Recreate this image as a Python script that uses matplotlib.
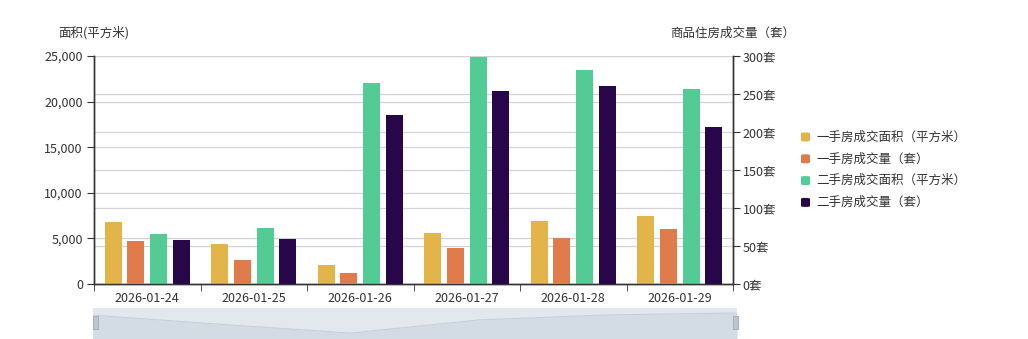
import numpy as np
import matplotlib
matplotlib.use('Agg')
import matplotlib.pyplot as plt
from matplotlib.patches import FancyBboxPatch, Rectangle

plt.rcParams['font.family'] = ['Noto Sans CJK SC', 'DejaVu Sans']

# data
dates = ['2026-01-24', '2026-01-25', '2026-01-26', '2026-01-27', '2026-01-28', '2026-01-29']
new_area = [6850, 4370, 2040, 5580, 6920, 7430]      # 一手房成交面积 (left axis)
new_units = [57, 32, 15, 47, 60, 72]                 # 一手房成交量 (right axis)
old_area = [5500, 6120, 22000, 24850, 23500, 21350]  # 二手房成交面积 (left axis)
old_units = [58, 59, 222, 254, 261, 206]             # 二手房成交量 (right axis)
series_names = ['一手房成交面积（平方米）', '一手房成交量（套）',
                '二手房成交面积（平方米）', '二手房成交量（套）']
colors = ['#e3b449', '#e07b4c', '#52cc94', '#270649']

W, H = 1028, 339
fig = plt.figure(figsize=(W / 100, H / 100), dpi=100)
x0, x1, yb, yt = 94, 733, 284, 56
ax = fig.add_axes([x0 / W, (H - yb) / H, (x1 - x0) / W, (yb - yt) / H])
ax2 = ax.twinx()

txt = '#333333'
grid_c = '#d4d4d4'
x = np.arange(len(dates))
pitch = 0.213
bw = 0.16
LMAX, RMAX = 25000, 300

ax.set_ylim(0, LMAX)
ax2.set_ylim(0, RMAX)
ax.set_xlim(-0.5, len(dates) - 0.5)

# split lines of both y axes, all drawn behind the bars
for v in range(5000, LMAX + 1, 5000):
    ax.axhline(v, color=grid_c, lw=0.9, zorder=0)
for v in range(50, RMAX + 1, 50):
    ax.axhline(v * LMAX / RMAX, color=grid_c, lw=0.9, zorder=0)

ax.bar(x - 1.5 * pitch, new_area, bw, color=colors[0], zorder=3)
ax2.bar(x - 0.5 * pitch, new_units, bw, color=colors[1], zorder=3)
ax.bar(x + 0.5 * pitch, old_area, bw, color=colors[2], zorder=3)
ax2.bar(x + 1.5 * pitch, old_units, bw, color=colors[3], zorder=3)

ax.set_yticks(range(0, LMAX + 1, 5000))
ax.set_yticklabels([f'{v:,}' for v in range(0, LMAX + 1, 5000)])
ax2.set_yticks(range(0, RMAX + 1, 50))
ax2.set_yticklabels([f'{v}套' for v in range(0, RMAX + 1, 50)])

ax.set_xticks(x)
ax.set_xticklabels(dates)
ax.set_xticks(np.arange(-0.5, len(dates)), minor=True)
ax.tick_params(axis='x', which='major', length=0, pad=6, labelsize=9, labelcolor=txt)
ax.tick_params(axis='x', which='minor', length=5, color=txt)
ax.tick_params(axis='y', length=5, color=txt, labelsize=9, labelcolor=txt, pad=3)
ax2.tick_params(axis='y', length=5, color=txt, labelsize=9, labelcolor=txt, pad=2)

for a in (ax, ax2):
    a.spines['top'].set_visible(False)
    for s in ('left', 'right', 'bottom'):
        a.spines[s].set_color(txt)
        a.spines[s].set_linewidth(1)
ax2.patch.set_visible(False)

fig.text(x0 / W, 1 - 33 / H, '面积(平方米)', ha='center', va='center', fontsize=9, color=txt)
fig.text(x1 / W, 1 - 33 / H, '商品住房成交量（套）', ha='center', va='center', fontsize=9, color=txt)

# legend
for i, name in enumerate(series_names):
    cy = 137 + i * 21.8
    fig.patches.append(FancyBboxPatch((801 / W, 1 - (cy + 4.5) / H), 9 / W, 9 / H,
                                      boxstyle='round,pad=0,rounding_size=0.003',
                                      transform=fig.transFigure, facecolor=colors[i],
                                      edgecolor='none'))
    fig.text(816 / W, 1 - cy / H, name, ha='left', va='center', fontsize=9, color=txt)

# data zoom slider with shadow of first series
sz = fig.add_axes([93 / W, 0, (737 - 93) / W, (H - 308) / H])
sz.set_xlim(0, len(dates) - 1)
sz.set_ylim(0, 1)
sz.add_patch(Rectangle((0, 0), 1, 1, transform=sz.transAxes, facecolor='#e2e8ee', edgecolor='none'))
na = np.array(new_area, dtype=float)
shadow = 0.19 + (na - na.min()) / (na.max() - na.min()) * 0.65
sz.fill_between(x, 0, shadow, color='#d3dce5', lw=0)
sz.plot(x, shadow, color='#c6d0db', lw=0.8)
sz.axis('off')
for hx in (95, 735):
    fig.patches.append(Rectangle(((hx - 2.5) / W, 1 - 329 / H), 5 / W, 13 / H,
                                 transform=fig.transFigure, facecolor='#bcc6d2',
                                 edgecolor='#a0abb8', lw=0.6))

fig.savefig('out.png', dpi=100)
